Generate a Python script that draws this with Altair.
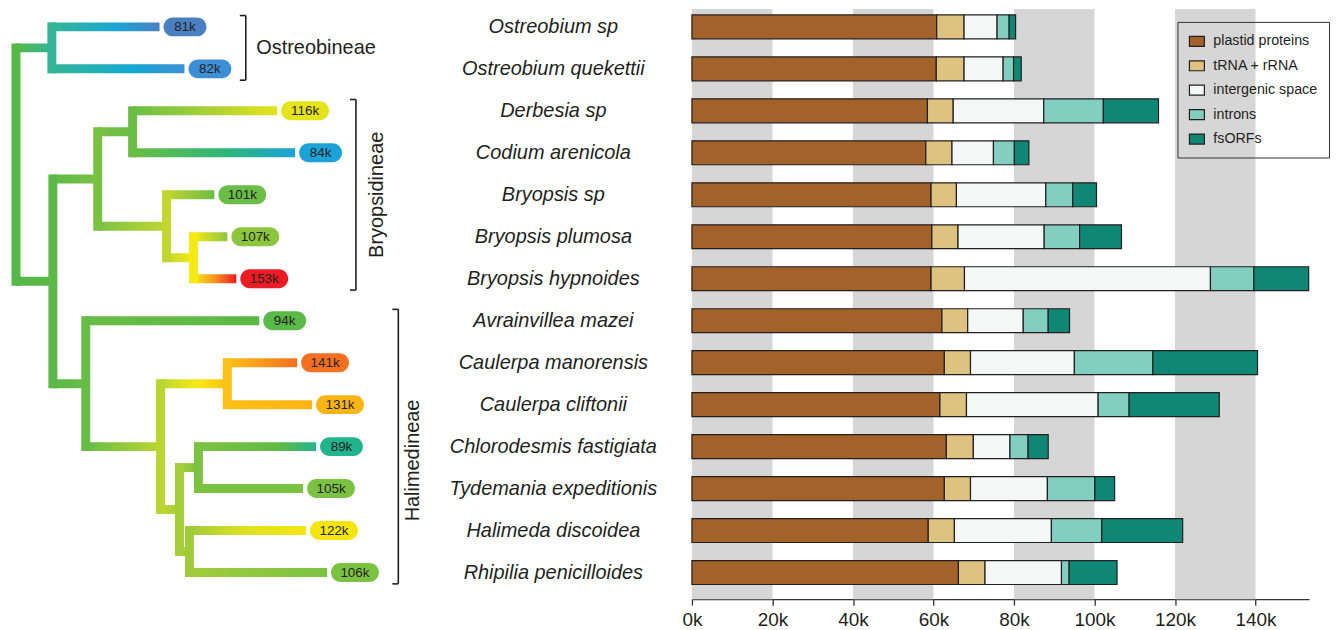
import altair as alt
import pandas as pd

# ---------------- bar chart data (values in thousand bp) ----------------
species = ["Ostreobium sp", "Ostreobium quekettii", "Derbesia sp", "Codium arenicola",
           "Bryopsis sp", "Bryopsis plumosa", "Bryopsis hypnoides", "Avrainvillea mazei",
           "Caulerpa manorensis", "Caulerpa cliftonii", "Chlorodesmis fastigiata",
           "Tydemania expeditionis", "Halimeda discoidea", "Rhipilia penicilloides"]
categories = ["plastid proteins", "tRNA + rRNA", "intergenic space", "introns", "fsORFs"]
cat_colors = ["#a3622a", "#dec27f", "#f5f7f6", "#82cfc2", "#0f8774"]
plastid_proteins = [60.8, 60.7, 58.5, 58.1, 59.4, 59.6, 59.4, 62.1, 62.7, 61.6, 63.2, 62.7, 58.7, 66.2]
trna_rrna = [6.8, 6.9, 6.4, 6.5, 6.3, 6.5, 8.3, 6.4, 6.5, 6.6, 6.7, 6.5, 6.5, 6.6]
intergenic_space = [8.2, 9.7, 22.5, 10.3, 22.2, 21.4, 61.1, 13.8, 25.8, 32.7, 9.1, 19.1, 24.1, 19.0]
introns = [3.0, 2.6, 14.8, 5.2, 6.7, 8.8, 10.8, 6.2, 19.5, 7.7, 4.5, 11.8, 12.5, 1.9]
fsorfs = [1.6, 1.9, 13.7, 3.6, 5.9, 10.4, 13.6, 5.3, 26.0, 22.4, 5.0, 4.9, 20.1, 11.9]
band_starts = [0, 40, 80, 120]
band_ends = [20, 60, 100, 140]
tick_values = [0, 20, 40, 60, 80, 100, 120, 140]
x_max = 153.3

# ---------------- tree data ----------------
node_ids = ["root", "O", "L0", "L1", "BH", "Bry", "N1", "L2", "L3", "N2", "L4", "N3", "L5", "L6",
            "Hal", "L7", "A", "Cau", "L8", "L9", "B", "C", "L10", "L11", "D", "L12", "L13"]
node_parent = [None, "root", "O", "O", "root", "BH", "Bry", "N1", "N1", "Bry", "N2", "N2", "N3", "N3",
               "BH", "Hal", "Hal", "A", "Cau", "Cau", "A", "B", "C", "C", "B", "D", "D"]
node_depth = [16, 52, 160, 185, 53, 98, 133, 278, 296, 167, 215, 194, 228, 237,
              86, 260, 161, 228, 298, 313, 180, 199, 317, 304, 190, 307, 328]
node_color = ["#55b848", "#35b597", "#4a7fc1", "#3d8fd5", "#5cb947", "#7ac143", "#68bd45", "#e5e31b",
              "#1ba3d8", "#c1d72f", "#6abd45", "#f6ea13", "#8cc63f", "#ec1c24", "#67bc46", "#5bb947",
              "#bcd631", "#fdc016", "#f37021", "#fbb416", "#a5ce39", "#7cc242", "#21b48f", "#7cc242",
              "#a0cc3a", "#f4e50f", "#7cc242"]
node_mid_color = [None, None, "#1aa6d4", "#14a8d0", None, None, None, "#a6cf38",
                  "#2bb67c", None, None, None, None, "#f7941d", None, None,
                  None, "#f5ea14", None, None, None, None, "#5fba47", None,
                  None, "#e0e121", None]
node_mid_offset = [None, None, 0.6, 0.6, None, None, None, 0.5,
                   0.6, None, None, None, None, 0.5, None, None,
                   None, 0.55, None, None, None, None, 0.7, None,
                   None, 0.5, None]
leaf_row = [None, None, 0, 1, None, None, None, 2, 3, None, 4, None, 5, 6,
            None, 7, None, None, 8, 9, None, None, 10, 11, None, 12, 13]
genome_labels = ["81k", "82k", "116k", "84k", "101k", "107k", "153k",
                 "94k", "141k", "131k", "89k", "105k", "122k", "106k"]

clade_names = ["Ostreobineae", "Bryopsidineae", "Halimedineae"]
clade_first_row = [0, 2, 7]
clade_last_row = [1, 6, 13]

# ---------------- layout constants ----------------
FONT = "Liberation Sans"
TXT = "#231f20"
ROW_STEP = 42.1
PLOT_H = 592
Y_MIN = -(26 - 8) / ROW_STEP
Y_MAX = Y_MIN + PLOT_H / ROW_STEP
TREE_W = 686
BAR_W = 619
BRANCH_W = 9
LABEL_X = 555
bracket_x = [246.5, 357, 399.5]
bracket_ext = 0.27
clade_label_x = [257, 378.5, 414.5]
clade_label_row = [0.5, 4.0, 10.33]

yscale = alt.Scale(domain=[Y_MIN, Y_MAX], reverse=True, nice=False, zero=False, padding=0)
txscale = alt.Scale(domain=[8, 8 + TREE_W], nice=False, zero=False, padding=0)


def TY(f):
    return alt.Y(f, type="quantitative", scale=yscale, axis=None)


def TX(f):
    return alt.X(f, type="quantitative", scale=txscale, axis=None)


# ---------------- tree geometry (derived from data) ----------------
idx = {n: i for i, n in enumerate(node_ids)}
children = {n: [] for n in node_ids}
for n, p in zip(node_ids, node_parent):
    if p is not None:
        children[p].append(n)

ypos = {}


def node_y(n):
    i = idx[n]
    if leaf_row[i] is not None:
        ypos[n] = float(leaf_row[i])
    else:
        ys = [node_y(c) for c in children[n]]
        ypos[n] = (min(ys) + max(ys)) / 2
    return ypos[n]


node_y("root")

tree_layers = []
for n, p in zip(node_ids, node_parent):
    if p is None:
        continue
    i = idx[n]
    stops = [alt.GradientStop(offset=0, color=node_color[idx[p]])]
    if node_mid_color[i] is not None:
        stops.append(alt.GradientStop(offset=node_mid_offset[i], color=node_mid_color[i]))
    stops.append(alt.GradientStop(offset=1, color=node_color[i]))
    grad = alt.Gradient(gradient="linear", stops=stops, x1=0, x2=1, y1=0, y2=0)
    df = pd.DataFrame({"x0": [node_depth[idx[p]]], "x1": [node_depth[i]], "y": [ypos[n]]})
    tree_layers.append(
        alt.Chart(df).mark_bar(orient="horizontal", size=BRANCH_W, fill=grad).encode(
            x=TX("x0"), x2="x1", y=TY("y"))
    )

vert = pd.DataFrame([
    {"x": node_depth[idx[n]],
     "y0": min(ypos[c] for c in children[n]),
     "y1": max(ypos[c] for c in children[n]),
     "color": node_color[idx[n]]}
    for n in node_ids if children[n]
])
tree_layers.append(
    alt.Chart(vert).mark_rule(strokeWidth=BRANCH_W, strokeCap="square").encode(
        x=TX("x"), y=TY("y0"), y2="y1", color=alt.Color("color:N", scale=None))
)

leaves = pd.DataFrame([
    {"tip": node_depth[i], "row": leaf_row[i], "label": genome_labels[leaf_row[i]],
     "color": node_color[i]}
    for i in range(len(node_ids)) if leaf_row[i] is not None
])
pill_base = alt.Chart(leaves).transform_calculate(
    p0="datum.tip + 4",
    w="length(datum.label) > 3 ? 48 : 43",
).transform_calculate(
    p1="datum.p0 + datum.w",
    pc="datum.p0 + datum.w / 2",
)
tree_layers.append(
    pill_base.mark_bar(orient="horizontal", size=19, cornerRadius=9.5).encode(
        x=TX("p0"), x2="p1", y=TY("row"), color=alt.Color("color:N", scale=None))
)
tree_layers.append(
    pill_base.mark_text(fontSize=13.5, font=FONT, color=TXT, align="center", baseline="middle").encode(
        x=TX("pc"), y=TY("row"), text="label:N")
)

sp_df = pd.DataFrame({"species": species, "row": list(range(len(species)))})
tree_layers.append(
    alt.Chart(sp_df).mark_text(fontSize=20, font=FONT, fontStyle="italic", color=TXT,
                               align="center", baseline="middle").encode(
        x=alt.datum(LABEL_X, scale=txscale, axis=None), y=TY("row"), text="species:N")
)

clades = pd.DataFrame({"name": clade_names, "first": clade_first_row, "last": clade_last_row,
                       "bx": bracket_x, "lx": clade_label_x, "ly": clade_label_row})
cbase = alt.Chart(clades).transform_calculate(
    top=f"datum.first - {bracket_ext}", bot=f"datum.last + {bracket_ext}", tx="datum.bx - 6")
tree_layers.append(
    cbase.mark_rule(strokeWidth=1.6, color=TXT).encode(x=TX("bx"), y=TY("top"), y2="bot"))
tree_layers.append(
    cbase.mark_rule(strokeWidth=1.6, color=TXT).encode(x=TX("tx"), x2="bx", y=TY("top")))
tree_layers.append(
    cbase.mark_rule(strokeWidth=1.6, color=TXT).encode(x=TX("tx"), x2="bx", y=TY("bot")))
tree_layers.append(
    alt.Chart(clades.iloc[[0]]).mark_text(fontSize=20, font=FONT, color=TXT, align="left",
                                         baseline="middle").encode(
        x=TX("lx"), y=TY("ly"), text="name:N"))
tree_layers.append(
    alt.Chart(clades.iloc[1:]).mark_text(fontSize=20, font=FONT, color=TXT, align="center",
                                        baseline="middle", angle=270).encode(
        x=TX("lx"), y=TY("ly"), text="name:N"))

tree = alt.layer(*tree_layers).properties(width=TREE_W, height=PLOT_H)

# ---------------- stacked bars ----------------
rows = []
series = [plastid_proteins, trna_rrna, intergenic_space, introns, fsorfs]
for r, sp in enumerate(species):
    for k, cat in enumerate(categories):
        rows.append({"species": sp, "row": r, "category": cat, "order": k, "value": series[k][r]})
bar_df = pd.DataFrame(rows)

xscale = alt.Scale(domain=[0, x_max], nice=False, zero=True, padding=0)
xaxis = alt.Axis(values=tick_values, labelExpr="datum.value + 'k'", title=None, grid=False,
                 tickSize=6, tickWidth=1.3, tickColor="#333333", domainColor="#333333",
                 domainWidth=1.3, labelFontSize=19, labelColor=TXT, labelFont=FONT,
                 labelPadding=5, labelFlush=False, labelOverlap=False)

bands = alt.Chart(pd.DataFrame({"s": band_starts, "e": band_ends})).mark_rect(color="#d6d6d6").encode(
    x=alt.X("s:Q", scale=xscale, axis=xaxis), x2="e:Q")

bars = alt.Chart(bar_df).transform_stack(
    stack="value", groupby=["species"], as_=["x0", "x1"],
    sort=[alt.SortField("order", order="ascending")]
).mark_bar(orient="horizontal", size=24, stroke=TXT, strokeWidth=1.2).encode(
    x=alt.X("x0:Q", scale=xscale, axis=xaxis),
    x2="x1:Q",
    y=TY("row"),
    color=alt.Color("category:N", scale=alt.Scale(domain=categories, range=cat_colors),
                    legend=alt.Legend(title=None, orient="none", legendX=487, legendY=13,
                                      labelFontSize=14.3, labelFont=FONT, labelColor=TXT,
                                      symbolType="M-1,-0.667H1V0.667H-1Z", symbolSize=225,
                                      symbolStrokeColor=TXT, symbolStrokeWidth=1.2,
                                      symbolOpacity=1, padding=11, rowPadding=8.5,
                                      labelOffset=8, strokeColor="#333333")),
    order=alt.Order("order:Q"),
)

barchart = alt.layer(bands, bars).properties(width=BAR_W, height=PLOT_H)

chart = alt.hconcat(tree, barchart, spacing=0, bounds="flush").resolve_scale(
    x="independent", y="independent", color="independent"
).resolve_legend(color="independent").properties(
    padding={"left": 0, "top": 0, "right": 0, "bottom": 0}
).configure(font=FONT).configure_view(stroke=None, strokeWidth=0)

chart.save("out.html", embed_options={"renderer": "svg", "actions": False})
